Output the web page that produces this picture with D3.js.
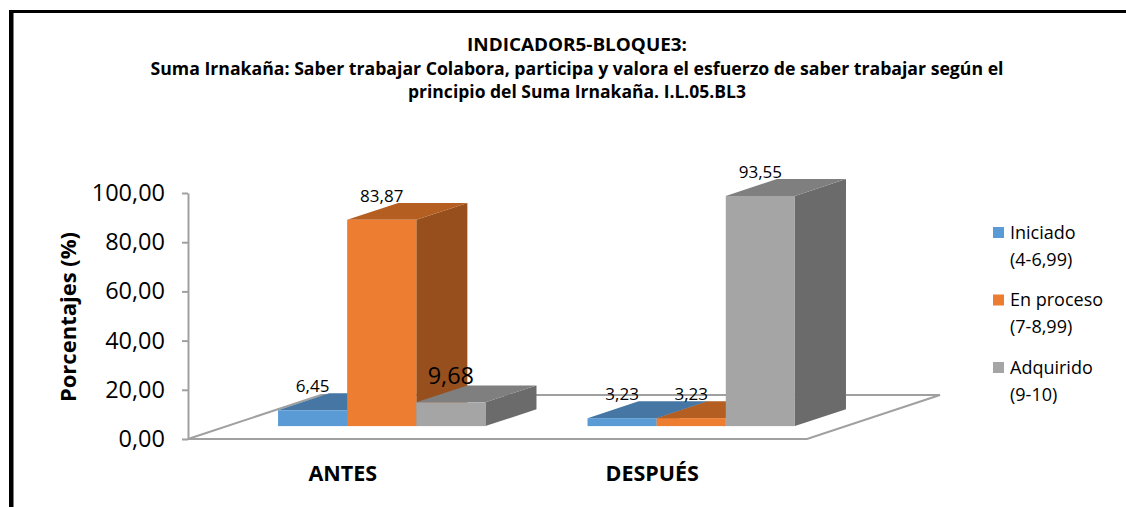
<!DOCTYPE html>
<html>
<head>
<meta charset="utf-8">
<script src="https://cdn.jsdelivr.net/npm/d3@7"></script>
<style>
  body { margin: 0; background: #fff; }
  svg text { font-family: 'Open Sans', sans-serif; fill: #000; }
</style>
</head>
<body>
<div id="chart"></div>
<script>
// data
const categories = ['ANTES', 'DESPUÉS'];
const seriesNames = ['Iniciado', 'En proceso', 'Adquirido'];
const seriesRanges = ['(4-6,99)', '(7-8,99)', '(9-10)'];
const iniciado = [6.45, 3.23];
const enProceso = [83.87, 3.23];
const adquirido = [9.68, 93.55];
const yTicks = [0, 20, 40, 60, 80, 100];
const titleLines = [
  'INDICADOR5-BLOQUE3:',
  'Suma Irnakaña: Saber trabajar Colabora, participa y valora el esfuerzo de saber trabajar según el',
  'principio del Suma Irnakaña. I.L.05.BL3'
];

const seriesValues = [iniciado, enProceso, adquirido];

const widthSvg = 1126;
const heightSvg = 507;

// floor / plot geometry (front plane of the floor)
const plot = { left: 188, right: 807, top: 193, bottom: 439 };
const depth = { dx: 133, dy: 44 };     // full floor depth
const barZ = [0.293, 0.677];           // bar depth inside the floor

const colors = [
  { front: '#5B9BD5', top: '#4676A3', side: '#3E6B95' },
  { front: '#ED7D31', top: '#B45E22', side: '#97501D' },
  { front: '#A5A5A5', top: '#7F7F7F', side: '#6B6B6B' }
];

const fmt = v => d3.format('.2f')(v).replace('.', ',');

const svg = d3.select('#chart').append('svg')
  .attr('width', widthSvg)
  .attr('height', heightSvg);

// frame (left + top only)
svg.append('path')
  .attr('d', 'M12,507 L12,11.5 L1126,11.5')
  .attr('fill', 'none')
  .attr('stroke', '#000')
  .attr('stroke-width', 3);
svg.append('rect').attr('x', 9).attr('y', 10).attr('width', 4).attr('height', 497).attr('fill', '#000');

// title
const titleW = [220, 853, 338];
const titleY = [51, 75, 98];
svg.append('g').selectAll('text')
  .data(titleLines)
  .join('text')
  .attr('x', 577)
  .attr('y', (d, i) => titleY[i])
  .attr('text-anchor', 'middle')
  .attr('font-weight', 'bold')
  .attr('font-size', 18)
  .attr('textLength', (d, i) => titleW[i])
  .attr('lengthAdjust', 'spacingAndGlyphs')
  .text(d => d);

const y = d3.scaleLinear().domain([0, 100]).range([plot.bottom, plot.top]);

const x = d3.scaleBand()
  .domain(categories)
  .range([plot.left, plot.right])
  .paddingInner(0.33)
  .paddingOuter(0.165);

const xs = d3.scaleBand()
  .domain(seriesNames)
  .range([0, x.bandwidth()]);

// projection: front-plane x, value, depth fraction z
const proj = (px, v, z) => [px + z * depth.dx, y(v) - z * depth.dy];
const poly = pts => 'M' + pts.map(p => p.join(',')).join('L') + 'Z';

// floor
const floorColor = '#A0A0A0';
svg.append('path')
  .attr('d', poly([
    proj(plot.left, 0, 0), proj(plot.right, 0, 0),
    proj(plot.right, 0, 1), proj(plot.left, 0, 1)
  ]))
  .attr('fill', 'none')
  .attr('stroke', floorColor)
  .attr('stroke-width', 2);

// y axis
const axisY = d3.axisLeft(y)
  .tickValues(yTicks)
  .tickFormat(fmt)
  .tickSize(6)
  .tickSizeOuter(0)
  .tickPadding(17);

const gAxisY = svg.append('g')
  .attr('transform', `translate(${plot.left},0)`)
  .call(axisY);
gAxisY.select('.domain').attr('stroke', floorColor).attr('stroke-width', 2);
gAxisY.selectAll('.tick line').attr('stroke', floorColor).attr('stroke-width', 2);
gAxisY.selectAll('.tick text')
  .attr('font-family', "'Open Sans', sans-serif")
  .attr('font-size', 23.5)
  .attr('fill', '#000');

svg.append('text')
  .attr('transform', 'translate(76,317) rotate(-90)')
  .attr('text-anchor', 'middle')
  .attr('font-weight', 'bold')
  .attr('font-size', 22)
  .text('Porcentajes (%)');

// bars
const bars = [];
categories.forEach((c, ci) => {
  seriesNames.forEach((s, si) => {
    bars.push({ cat: c, ci, series: s, si, value: seriesValues[si][ci] });
  });
});

const gBars = svg.append('g');
bars.forEach(b => {
  const x0 = x(b.cat) + xs(b.series);
  const x1 = x0 + xs.bandwidth();
  const col = colors[b.si];
  const g = gBars.append('g').attr('class', 'bar');
  // side
  g.append('path')
    .attr('d', poly([proj(x1, 0, barZ[0]), proj(x1, 0, barZ[1]), proj(x1, b.value, barZ[1]), proj(x1, b.value, barZ[0])]))
    .attr('fill', col.side);
  // top
  g.append('path')
    .attr('d', poly([proj(x0, b.value, barZ[0]), proj(x1, b.value, barZ[0]), proj(x1, b.value, barZ[1]), proj(x0, b.value, barZ[1])]))
    .attr('fill', col.top);
  // front
  const p0 = proj(x0, b.value, barZ[0]);
  const p1 = proj(x1, 0, barZ[0]);
  g.append('rect')
    .attr('x', p0[0])
    .attr('y', p0[1])
    .attr('width', p1[0] - p0[0])
    .attr('height', p1[1] - p0[1])
    .attr('fill', col.front);
});

// data labels
svg.append('g').selectAll('text')
  .data(bars)
  .join('text')
  .attr('x', d => proj(x(d.cat) + xs(d.series) + xs.bandwidth() / 2, d.value, barZ[0])[0])
  .attr('y', d => proj(0, d.value, barZ[0])[1] - 18)
  .attr('text-anchor', 'middle')
  .attr('font-size', d => (d.ci === 0 && d.si === 2) ? 23.5 : 17)
  .text(d => fmt(d.value));

// category labels
svg.append('g').selectAll('text')
  .data(categories)
  .join('text')
  .attr('x', d => x(d) + x.bandwidth() / 2)
  .attr('y', 481)
  .attr('text-anchor', 'middle')
  .attr('font-weight', 'bold')
  .attr('font-size', 21.5)
  .text(d => d);

// legend
const legend = svg.append('g').attr('transform', 'translate(993,227)');
const items = legend.selectAll('g')
  .data(seriesNames)
  .join('g')
  .attr('transform', (d, i) => `translate(0,${i * 67.5})`);
items.append('rect')
  .attr('width', 11).attr('height', 11)
  .attr('fill', (d, i) => colors[i].front);
items.append('text')
  .attr('x', 17).attr('y', 11.5)
  .attr('font-size', 18)
  .text(d => d);
items.append('text')
  .attr('x', 17).attr('y', 38.5)
  .attr('font-size', 18)
  .text((d, i) => seriesRanges[i]);
</script>
</body>
</html>
